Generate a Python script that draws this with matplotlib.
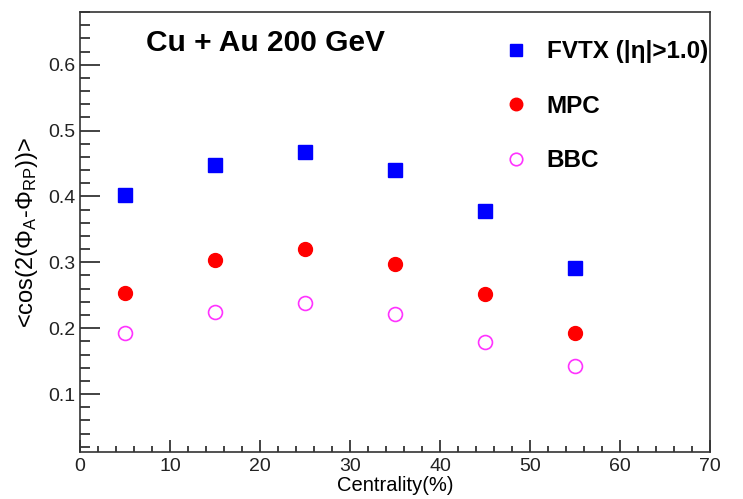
import matplotlib
matplotlib.use("Agg")
import matplotlib.pyplot as plt
from matplotlib.ticker import MultipleLocator

plt.rcParams['font.family'] = ['Liberation Sans', 'DejaVu Sans']
plt.rcParams['mathtext.fontset'] = 'custom'
plt.rcParams['mathtext.rm'] = 'Liberation Sans'
plt.rcParams['mathtext.it'] = 'Liberation Sans'
plt.rcParams['mathtext.default'] = 'regular'

centrality = [5, 15, 25, 35, 45, 55]
fvtx = [0.402, 0.448, 0.468, 0.440, 0.378, 0.291]
mpc = [0.254, 0.304, 0.320, 0.298, 0.252, 0.192]
bbc = [0.192, 0.224, 0.238, 0.222, 0.179, 0.142]

labels = ['FVTX (|η|>1.0)', 'MPC', 'BBC']

fig = plt.figure(figsize=(7.43, 4.99), dpi=100)
ax = fig.add_axes([80/743, 1-452/499, 630/743, 440/499])

h1, = ax.plot(centrality, fvtx, ls='none', marker='s', ms=10, mfc='#0000ff', mec='#0000ff', label=labels[0])
h2, = ax.plot(centrality, mpc, ls='none', marker='o', ms=10, mfc='#ff0000', mec='#ff0000', label=labels[1])
h3, = ax.plot(centrality, bbc, ls='none', marker='o', ms=10, mfc='none', mec='#ff33ff', mew=1.2, label=labels[2])

ax.set_xlim(0, 70)
ax.set_ylim(0.012, 0.68)
ax.xaxis.set_major_locator(MultipleLocator(10))
ax.xaxis.set_minor_locator(MultipleLocator(2))
ax.yaxis.set_minor_locator(MultipleLocator(0.02))
ax.set_yticks([0.1, 0.2, 0.3, 0.4, 0.5, 0.6])
ax.set_yticklabels(['0.1', '0.2', '0.3', '0.4', '0.5', '0.6'])

ax.tick_params(axis='both', which='both', direction='in', top=False, right=False,
               labelsize=14, colors='#222222', width=1.2)
ax.tick_params(axis='y', which='major', length=14.4, pad=3)
ax.tick_params(axis='y', which='minor', length=7.2)
ax.tick_params(axis='x', which='major', length=8.6, pad=4)
ax.tick_params(axis='x', which='minor', length=4.0)
for s in ax.spines.values():
    s.set_linewidth(1.2)
    s.set_color('#333333')

ax.set_xlabel('Centrality(%)', fontsize=14.5, labelpad=1)
ax.set_ylabel(r'<cos(2($\Phi_A$-$\Phi_{RP}$))>', fontsize=17, labelpad=6)

fig.text(146/743, 1-43/499, 'Cu + Au 200 GeV', fontsize=21.5, fontweight='bold', va='center', ha='left')

leg = ax.legend(handles=[h1, h2, h3], loc='upper left', bbox_to_anchor=(492/743, 1-28/499),
                bbox_transform=fig.transFigure, frameon=False, prop={'weight': 'bold', 'size': 17.5},
                labelspacing=1.3, handletextpad=0.75, handlelength=1.0, borderpad=0, markerscale=0.9)

fig.savefig('out.png', dpi=100)
